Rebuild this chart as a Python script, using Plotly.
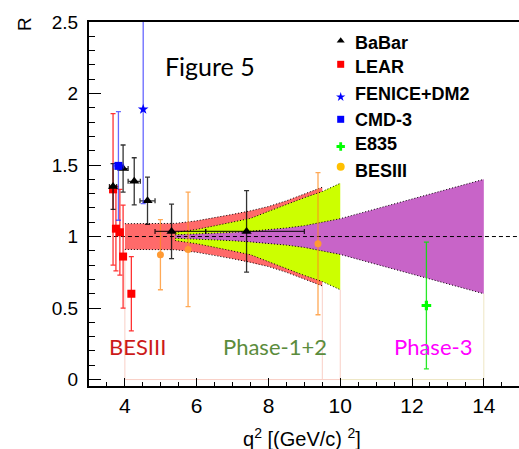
import plotly.graph_objects as go

# ---- measurements: q^2 in (GeV/c)^2, R = |GE|/|GM| ----
babar_q2 = [3.67, 3.95, 4.26, 4.63, 5.30, 7.39]
babar_r = [1.35, 1.475, 1.386, 1.25, 1.036, 1.036]
babar_err = [0.16, 0.165, 0.165, 0.165, 0.19, 0.285]
babar_xlo = [0.10, 0.14, 0.17, 0.21, 0.46, 1.14]
babar_xhi = [0.10, 0.14, 0.17, 0.21, 0.95, 1.61]

lear_q2 = [3.67, 3.75, 3.86, 3.95, 4.18]
lear_r = [1.33, 1.055, 1.03, 0.86, 0.60]
lear_err = [0.53, 0.295, 0.30, 0.36, 0.26]

fenice_q2 = [4.51]
fenice_r = [1.89]
fenice_err = [0.66]

cmd3_q2 = [3.82]
cmd3_r = [1.494]
cmd3_err = [0.38]
cmd3_xerr = [0.14]

e835_q2 = [12.40]
e835_r = [0.518]
e835_err = [0.443]

bes_q2 = [4.99, 5.76, 9.38]
bes_r = [0.873, 0.91, 0.95]
bes_err = [0.245, 0.40, 0.497]

# ---- projected precision bands around R = 1 ----
band_bes_q2 = [4.0, 5.0, 5.4, 6.0, 6.5, 7.0, 7.5, 8.0, 8.5, 9.0, 9.5]
band_bes_hw = [0.09, 0.09, 0.092, 0.11, 0.13, 0.155, 0.18, 0.21, 0.25, 0.295, 0.345]

band_p12_q2 = [5.4, 6.0, 6.5, 7.0, 7.5, 8.0, 8.5, 9.0, 9.5, 10.0]
band_p12_hw = [0.028, 0.05, 0.075, 0.10, 0.127, 0.176, 0.225, 0.272, 0.315, 0.372]

band_p3_q2 = [5.4, 6.0, 6.5, 7.0, 7.5, 8.0, 8.5, 9.0, 9.5, 10.0, 14.0]
band_p3_hw = [0.012, 0.017, 0.022, 0.029, 0.037, 0.048, 0.06, 0.076, 0.098, 0.125, 0.40]

legend_names = ["BaBar", "LEAR", "FENICE+DM2", "CMD-3", "E835", "BESIII"]

W, H = 519, 449
L, T, B = 89, 22, 63
XR = [3.0, 14.98]
YR = [-0.045, 2.5]

fig = go.Figure()


def band(xs, hw, fill, base_color, base_to=None):
    up = [1 + h for h in hw]
    lo = [1 - h for h in hw]
    fig.add_trace(go.Scatter(
        x=xs + xs[::-1], y=up + lo[::-1], mode="lines", fill="toself",
        fillcolor=fill, line=dict(width=0), hoverinfo="skip", showlegend=False))
    for edge in (up, lo):
        fig.add_trace(go.Scatter(
            x=xs, y=edge, mode="lines", hoverinfo="skip", showlegend=False,
            line=dict(color="black", width=1, dash="1px,2px")))


# faint outlines of the band regions down to R = 0
fig.add_trace(go.Scatter(
    x=[band_bes_q2[0], band_bes_q2[0], band_p12_q2[-1], band_p12_q2[-1]],
    y=[1 - band_bes_hw[0], 0, 0, 1 - band_p12_hw[-1]],
    mode="lines", line=dict(color="#f9cfc6", width=1), hoverinfo="skip", showlegend=False))
fig.add_trace(go.Scatter(
    x=[band_bes_q2[-1], band_bes_q2[-1]], y=[1 - band_bes_hw[-1], 0],
    mode="lines", line=dict(color="#f9cfc6", width=1), hoverinfo="skip", showlegend=False))
fig.add_trace(go.Scatter(
    x=[band_p12_q2[-1], band_p3_q2[-1], band_p3_q2[-1]],
    y=[0, 0, 1 - band_p3_hw[-1]],
    mode="lines", line=dict(color="#eee6c4", width=1), hoverinfo="skip", showlegend=False))

band(band_bes_q2, band_bes_hw, "#ff6a6a", "#f9cfc6")
band(band_p12_q2, band_p12_hw, "#ccff00", "#eee6c4")
band(band_p3_q2, band_p3_hw, "#c864c8", "#eee6c4")

# R = 1 reference
fig.add_trace(go.Scatter(
    x=[3.5, XR[1]], y=[1, 1], mode="lines", hoverinfo="skip", showlegend=False,
    line=dict(color="black", width=1, dash="4px,3px")))


def points(x, y, ey, color, bar_color, symbol, size, ex=None, exm=None, bar_w=1.3):
    err_x = None
    if ex is not None:
        err_x = dict(type="data", array=ex, arrayminus=exm if exm is not None else ex,
                     symmetric=exm is None, color=bar_color, thickness=bar_w, width=2.5)
    fig.add_trace(go.Scatter(
        x=x, y=y, mode="markers", showlegend=False, cliponaxis=True,
        marker=dict(color=color, symbol=symbol, size=size, line=dict(width=0)),
        error_y=dict(type="data", array=ey, color=bar_color, thickness=bar_w, width=2.5),
        error_x=err_x))


points(lear_q2, lear_r, lear_err, "#ff0000", "rgba(255,0,0,0.8)", "square", 8)
points(bes_q2, bes_r, bes_err, "#ff9a33", "rgba(255,140,30,0.75)", "circle", 7)
points(babar_q2, babar_r, babar_err, "black", "rgba(0,0,0,0.8)", "triangle-up", 9,
       ex=babar_xhi, exm=babar_xlo)
points(cmd3_q2, cmd3_r, cmd3_err, "#0000ff", "rgba(40,40,255,0.7)", "square", 8,
       ex=cmd3_xerr)
points(fenice_q2, fenice_r, fenice_err, "#0000ff", "rgba(40,40,255,0.7)", "star", 8)
points(e835_q2, e835_r, e835_err, "#00ff00", "rgba(0,230,0,0.85)", "cross", 8)

# legend block (pixel overlay axes)
leg_marker_y = [40.7, 64.3, 97.0, 119.3, 146.5, 166.7]
leg_text_y = [42.5, 66.5, 94.3, 120.0, 143.5, 170.5]
leg_style = [("triangle-up", "black", 7), ("square", "#ff0000", 7), ("star", "#0000ff", 7),
             ("square", "#0000ff", 7), ("cross", "#00ff00", 7), ("circle", "#ffc000", 8)]
for name, my, ty, (sym, col, sz) in zip(legend_names, leg_marker_y, leg_text_y, leg_style):
    fig.add_trace(go.Scatter(
        x=[340.7], y=[my], xaxis="x2", yaxis="y2", mode="markers", showlegend=False,
        marker=dict(symbol=sym, color=col, size=sz, line=dict(width=0))))
    fig.add_annotation(
        x=353, y=ty, xref="x2", yref="y2", text=f"<b>{name}</b>", showarrow=False,
        xanchor="left", yanchor="middle",
        font=dict(family="Liberation Sans", size=18, color="black"))

labels = [
    ("Figure 5", 209.5, 66, "black", 25),
    ("BESIII", 137, 346, "#cc1a1a", 22),
    ("Phase-1+2", 274.5, 346, "#5b8c3c", 22),
    ("Phase-3", 432.5, 346, "#ff00ff", 22),
]
for txt, px, py, col, sz in labels:
    fig.add_annotation(
        x=px, y=py, xref="x2", yref="y2", text=txt, showarrow=False,
        xanchor="center", yanchor="middle", font=dict(family="Lato", size=sz, color=col))

pw = W - L
ph = H - T - B
fig.add_annotation(
    x=(25 - L) / pw, y=(H - B - 24) / ph, xref="paper", yref="paper", text="R",
    textangle=-90, showarrow=False, xanchor="center", yanchor="middle",
    font=dict(family="Liberation Sans", size=19, color="black"))
fig.add_annotation(
    x=(302 - L) / pw, y=(H - B - 437) / ph, xref="paper", yref="paper",
    text="q<sup>2</sup> [(GeV/c) <sup>2</sup>]", showarrow=False,
    xanchor="center", yanchor="middle",
    font=dict(family="Liberation Sans", size=20, color="black"))

fig.update_layout(
    width=W, height=H, margin=dict(l=L, r=0, t=T, b=B),
    paper_bgcolor="white", plot_bgcolor="white",
    xaxis=dict(range=XR, showgrid=False, zeroline=False, showline=True, linecolor="black",
               linewidth=2, mirror=True, ticks="inside", ticklen=8, tickwidth=1.3,
               tickcolor="black", tickmode="array", tickvals=[4, 6, 8, 10, 12, 14],
               ticktext=["4", "6", "8", "10", "12", "14"],
               tickfont=dict(family="Liberation Sans", size=21, color="black"),
               minor=dict(tickmode="linear", dtick=0.5, tick0=0, ticks="inside",
                          ticklen=4, tickwidth=1.3, tickcolor="black", showgrid=False)),
    yaxis=dict(range=YR, showgrid=False, zeroline=False, showline=True, linecolor="black",
               linewidth=2, ticks="inside", ticklen=12, tickwidth=1.3, tickcolor="black",
               tickmode="array", tickvals=[0, 0.5, 1, 1.5, 2, 2.5],
               ticktext=["0", "0.5", "1", "1.5", "2", "2.5"], ticklabelstandoff=5,
               tickfont=dict(family="Liberation Sans", size=19, color="black"),
               minor=dict(tickmode="linear", dtick=0.1, tick0=0, ticks="inside",
                          ticklen=6, tickwidth=1.3, tickcolor="black", showgrid=False)),
    xaxis2=dict(range=[L, W], overlaying="x", visible=False, fixedrange=True),
    yaxis2=dict(range=[H - B, T], overlaying="y", visible=False, fixedrange=True),
    showlegend=False,
)

fig.write_html("out.html")
